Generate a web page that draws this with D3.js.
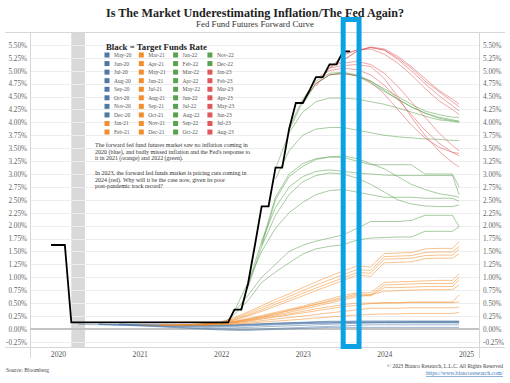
<!DOCTYPE html>
<html><head><meta charset="utf-8">
<script src="https://cdn.jsdelivr.net/npm/d3@7"></script>
<style>
html,body{margin:0;padding:0;background:#fff;}
svg{display:block;}
text{font-family:"Liberation Serif","DejaVu Serif",serif;}
</style></head><body>
<svg id="c" width="510" height="383"></svg>
<script>
const _ = null;
// contract months on the x axis of each forward curve
const curveDates = ["2020-04","2020-07","2020-10","2021-01","2021-04","2021-07","2021-10","2022-01","2022-03","2022-05","2022-07","2022-09","2022-11","2023-01","2023-03","2023-05","2023-07","2023-09","2023-11","2024-01","2024-03","2024-05","2024-07","2024-09","2024-11","2024-12"];

const blueLabels = ["May-20","Jun-20","Jul-20","Aug-20","Sep-20","Oct-20","Nov-20","Dec-20"];
const blueSeries = [
 [0.09,0.08,0.07,0.06,0.05, 0.04,0.03,0.02,0.02,0.03, 0.04,0.05,0.06,0.07,0.08, 0.09,0.10,0.11,0.12,0.13, 0.13,0.14,0.14,0.14,0.14, 0.14],
 [_,0.09,0.08,0.07,0.06, 0.05,0.05,0.05,0.05,0.06, 0.07,0.08,0.09,0.10,0.11, 0.11,0.12,0.12,0.12,0.12, 0.12,0.12,0.12,0.12,0.12, 0.12],
 [_,0.09,0.08,0.07,0.05, 0.03,0.01,0.00,-0.01,-0.01, 0.00,0.01,0.02,0.03,0.04, 0.05,0.06,0.07,0.08,0.08, 0.08,0.08,0.08,0.08,0.08, 0.08],
 [_,0.09,0.08,0.06,0.04, 0.02,0.00,-0.02,-0.03,-0.03, -0.02,-0.01,0.00,0.01,0.02, 0.03,0.03,0.03,0.03,0.03, 0.03,0.03,0.03,0.03,0.03, 0.03],
 [_,_,0.09,0.08,0.07, 0.06,0.06,0.06,0.07,0.08, 0.09,0.10,0.11,0.12,0.13, 0.14,0.14,0.15,0.15,0.15, 0.15,0.15,0.15,0.15,0.15, 0.15],
 [_,_,0.09,0.08,0.07, 0.07,0.07,0.08,0.08,0.09, 0.10,0.11,0.12,0.12,0.13, 0.13,0.13,0.13,0.13,0.13, 0.13,0.13,0.13,0.13,0.13, 0.13],
 [_,_,0.09,0.08,0.08, 0.07,0.07,0.07,0.08,0.09, 0.10,0.11,0.12,0.13,0.14, 0.15,0.15,0.15,0.15,0.15, 0.15,0.15,0.15,0.15,0.15, 0.15],
 [_,_,_,0.08,0.07, 0.06,0.06,0.06,0.06,0.07, 0.08,0.09,0.10,0.11,0.11, 0.12,0.12,0.12,0.12,0.12, 0.12,0.12,0.12,0.12,0.12, 0.12]
];

const orangeLabels = ["Jan-21","Feb-21","Mar-21","Apr-21","May-21","Jun-21","Jul-21","Aug-21","Sep-21","Oct-21","Nov-21","Dec-21"];
const orangeSeries = [
 [_,_,_,0.08,0.07, 0.07,0.07,0.08,0.09,0.11, 0.13,0.15,0.17,0.19,0.21, 0.23,0.25,0.27,0.28,0.29, 0.29,0.30,0.30,0.30,0.30, 0.32],
 [_,_,_,_,0.08, 0.08,0.08,0.09,0.10,0.13, 0.16,0.19,0.22,0.25,0.28, 0.31,0.34,0.37,0.40,0.40, 0.40,0.41,0.41,0.41,0.41, 0.42],
 [_,_,_,_,0.08, 0.08,0.09,0.10,0.12,0.15, 0.19,0.23,0.27,0.31,0.35, 0.39,0.43,0.46,0.49,0.50, 0.50,0.51,0.51,0.51,0.51, 0.52],
 [_,_,_,_,0.08, 0.08,0.09,0.10,0.12,0.16, 0.20,0.25,0.29,0.34,0.39, 0.43,0.47,0.50,0.50,0.51, 0.51,0.52,0.52,0.52,0.52, 0.66],
 [_,_,_,_,_, 0.08,0.09,0.10,0.13,0.17, 0.22,0.27,0.32,0.38,0.44, 0.50,0.56,0.62,0.66,0.73, 0.74,0.75,0.76,0.76,0.76, 0.85],
 [_,_,_,_,_, 0.08,0.09,0.11,0.14,0.18, 0.23,0.29,0.35,0.41,0.47, 0.53,0.59,0.65,0.64,0.80, 0.80,0.81,0.82,0.82,0.82, 0.95],
 [_,_,_,_,_, 0.08,0.09,0.11,0.14,0.19, 0.24,0.30,0.36,0.42,0.48, 0.55,0.61,0.68,0.66,0.85, 0.86,0.87,0.88,0.88,0.88, 1.00],
 [_,_,_,_,_, _,0.09,0.11,0.15,0.20, 0.26,0.32,0.38,0.44,0.51, 0.58,0.65,0.70,0.70,0.90, 0.91,0.92,0.93,0.94,0.94, 1.07],
 [_,_,_,_,_, _,0.09,0.12,0.17,0.25, 0.34,0.44,0.54,0.64,0.74, 0.84,0.94,1.04,1.02,1.28, 1.29,1.30,1.36,1.37,1.37, 1.45],
 [_,_,_,_,_, _,0.09,0.12,0.18,0.27, 0.37,0.48,0.58,0.69,0.79, 0.89,0.99,1.09,1.08,1.35, 1.36,1.37,1.42,1.43,1.43, 1.55],
 [_,_,_,_,_, _,_,0.13,0.20,0.30, 0.41,0.52,0.63,0.74,0.85, 0.95,1.05,1.15,1.13,1.40, 1.41,1.42,1.48,1.49,1.49, 1.60],
 [_,_,_,_,_, _,_,0.14,0.22,0.33, 0.45,0.57,0.68,0.80,0.91, 1.02,1.12,1.22,1.20,1.46, 1.47,1.48,1.55,1.56,1.56, 1.69]
];

const greenLabels = ["Jan-22","Feb-22","Mar-22","Apr-22","May-22","Jun-22","Jul-22","Aug-22","Sep-22","Oct-22","Nov-22","Dec-22"];
const greenSeries = [
 [_,_,_,_,_, _,_,0.08,0.28,0.55, 0.90,1.10,1.28,1.45,1.55, 1.60,1.63,1.72,1.76,1.77, 1.78,1.78,1.89,1.89,1.89, 1.98],
 [_,_,_,_,_, _,_,_,0.33,0.65, 1.00,1.25,1.50,1.62,1.70, 1.76,1.82,1.95,2.08,2.08, 2.08,2.10,2.20,2.20,2.20, 1.98],
 [_,_,_,_,_, _,_,_,0.35,0.90, 1.50,1.95,2.25,2.45,2.60, 2.68,2.70,2.65,2.60,2.55, 2.55,2.55,2.53,2.53,2.53, 2.47],
 [_,_,_,_,_, _,_,_,_,0.80, 1.60,2.20,2.60,2.85,2.97, 3.02,3.00,2.92,2.80,2.65, 2.50,2.42,2.38,2.37,2.37, 2.40],
 [_,_,_,_,_, _,_,_,_,0.85, 1.70,2.35,2.75,2.95,3.05, 3.08,3.05,3.02,3.00,2.98, 2.97,2.97,2.97,2.97,2.97, 2.60],
 [_,_,_,_,_, _,_,_,_,_, 1.60,2.50,2.95,3.15,3.28, 3.33,3.35,3.30,3.20,3.10, 2.95,2.80,2.70,2.62,2.58, 2.55],
 [_,_,_,_,_, _,_,_,_,_, 1.65,2.55,3.00,3.20,3.30, 3.33,3.32,3.25,3.18,3.18, 3.18,3.18,3.00,3.00,3.00, 2.75],
 [_,_,_,_,_, _,_,_,_,_, _,2.90,3.45,3.75,3.87, 3.90,3.90,3.85,3.80,3.75, 3.72,3.70,3.68,3.67,3.65, 3.65],
 [_,_,_,_,_, _,_,_,_,_, _,3.10,3.80,4.20,4.40, 4.47,4.47,4.45,4.40,4.35, 4.28,4.20,4.12,4.05,4.02, 4.00],
 [_,_,_,_,_, _,_,_,_,_, _,_,3.85,4.40,4.75, 4.92,4.95,4.90,4.80,4.62, 4.45,4.30,4.18,4.10,4.05, 4.02],
 [_,_,_,_,_, _,_,_,_,_, _,_,3.90,4.45,4.80, 4.95,4.97,4.92,4.80,4.65, 4.50,4.35,4.22,4.15,4.10, 4.10],
 [_,_,_,_,_, _,_,_,_,_, _,_,_,4.35,4.75, 4.92,4.95,4.90,4.76,4.60, 4.45,4.30,4.18,4.08,4.03, 4.02]
];

const redLabels = ["Jan-23","Feb-23","Mar-23","Apr-23","May-23","Jun-23","Jul-23","Aug-23"];
const redSeries = [
 [_,_,_,_,_, _,_,_,_,_, _,_,_,4.40,4.75, 4.92,4.95,4.90,4.78,4.55, 4.25,3.95,3.70,3.52,3.42, 3.40],
 [_,_,_,_,_, _,_,_,_,_, _,_,_,_,4.70, 5.05,5.30,5.40,5.42,5.32, 5.15,4.92,4.66,4.42,4.25, 4.15],
 [_,_,_,_,_, _,_,_,_,_, _,_,_,_,4.85, 5.00,5.05,5.02,4.92,4.72, 4.45,4.15,3.85,3.60,3.42, 3.35],
 [_,_,_,_,_, _,_,_,_,_, _,_,_,_,_, 5.05,5.10,5.12,5.08,4.85, 4.50,4.10,3.75,3.45,3.22, 3.14],
 [_,_,_,_,_, _,_,_,_,_, _,_,_,_,_, 5.10,5.15,5.18,5.12,4.95, 4.70,4.40,4.10,3.80,3.55, 3.45],
 [_,_,_,_,_, _,_,_,_,_, _,_,_,_,_, 5.05,5.20,5.38,5.45,5.40, 5.22,5.00,4.75,4.52,4.32, 4.22],
 [_,_,_,_,_, _,_,_,_,_, _,_,_,_,_, _,5.20,5.38,5.46,5.42, 5.28,5.08,4.85,4.62,4.45, 4.35],
 [_,_,_,_,_, _,_,_,_,_, _,_,_,_,_, _,5.33,5.40,5.45,5.40, 5.25,5.05,4.80,4.60,4.40, 4.30]
];

// black line: target funds rate (mid of range)
const targetDates = ["2019-12","2020-02","2020-03","2022-02","2022-03","2022-04","2022-05","2022-06","2022-07","2022-08","2022-09","2022-10","2022-11","2022-12","2023-01","2023-02","2023-03","2023-04","2023-05","2023-06","2023-07","2023-08"];
const targetRates = [1.625,1.625,0.125,0.125,0.375,0.375,0.875,1.625,2.375,2.375,3.125,3.125,3.875,4.375,4.375,4.625,4.875,4.875,5.125,5.125,5.375,5.375];

const yTicks = [-0.25,0,0.25,0.5,0.75,1,1.25,1.5,1.75,2,2.25,2.5,2.75,3,3.25,3.5,3.75,4,4.25,4.5,4.75,5,5.25,5.5];
const yearTicks = [2020,2021,2022,2023,2024,2025];
const recession = ["2020-03","2020-05"];
const highlight = ["2023-07-01","2023-09-10"];

const titleText = "Is The Market Underestimating Inflation/The Fed Again?";
const subtitleText = "Fed Fund Futures Forward Curve";
const legendTitle = "Black = Target Funds Rate";
const note1 = ["The forward fed fund futures market saw no inflation coming in","2020 (blue), and badly missed inflation and the Fed's response to","it in 2021 (orange) and 2022 (green)."];
const note2 = ["In 2023, the forward fed funds market is pricing cuts coming in","2024 (red). Why will it be the case now, given its poor","post-pandemic track record?"];
const sourceText = "Source: Bloomberg";
const copyText = "© 2023 Bianco Research, L.L.C. All Rights Reserved";
const urlText = "https://www.biancoresearch.com/";

const colors = {blue:"#4e79a7", orange:"#f28e2b", green:"#59a14f", red:"#e15759"};

const svg = d3.select("#c");
const pm = d3.timeParse("%Y-%m");
const pd = d3.timeParse("%Y-%m-%d");
const x = d3.scaleTime().domain([new Date(2019,7,29), new Date(2025,1,28)]).range([30,479]);
const y = d3.scaleLinear().domain([-0.35,5.75]).range([347,32]);
const cd = curveDates.map(pm);

function fit(sel, w){
  const fs = parseFloat(sel.attr("font-size"));
  const cur = sel.node().getComputedTextLength();
  sel.attr("font-size", (fs*w/cur).toFixed(2));
}

// recession band
svg.append("rect")
  .attr("x", x(pm(recession[0]))).attr("y", 32)
  .attr("width", x(pm(recession[1])) - x(pm(recession[0]))).attr("height", 315)
  .attr("fill", "#d9d9d9");

// gridlines
svg.append("g").selectAll("line").data(yTicks.filter(d => d !== 0)).join("line")
  .attr("x1", 30).attr("x2", 479)
  .attr("y1", d => Math.round(y(d)) + 0.5).attr("y2", d => Math.round(y(d)) + 0.5)
  .attr("stroke", "#ededed").attr("stroke-width", 1);

// frame
const frame = svg.append("g").attr("stroke", "#d6d6d6").attr("stroke-width", 1);
frame.append("line").attr("x1", 5).attr("x2", 505).attr("y1", 32.5).attr("y2", 32.5);
frame.append("line").attr("x1", 5).attr("x2", 505).attr("y1", 347.5).attr("y2", 347.5);
frame.append("line").attr("x1", 30.5).attr("x2", 30.5).attr("y1", 32).attr("y2", 358);
frame.append("line").attr("x1", 479.5).attr("x2", 479.5).attr("y1", 32).attr("y2", 358);

// zero line
svg.append("line").attr("x1", 30).attr("x2", 479)
  .attr("y1", y(0)).attr("y2", y(0))
  .attr("stroke", "#c3c3c3").attr("stroke-width", 2);

// axes
const fmt = d => d.toFixed(2) + "%";
const left = svg.append("g").attr("transform", "translate(27,0)")
  .call(d3.axisLeft(y).tickValues(yTicks).tickSize(0).tickPadding(0).tickFormat(fmt));
const right = svg.append("g").attr("transform", "translate(483,0)")
  .call(d3.axisRight(y).tickValues(yTicks).tickSize(0).tickPadding(0).tickFormat(fmt));
const bottom = svg.append("g").attr("transform", "translate(0,347)")
  .call(d3.axisBottom(x).tickValues(yearTicks.map(v => new Date(v,0,1))).tickSize(0).tickPadding(5).tickFormat(d3.timeFormat("%Y")));
[left, right, bottom].forEach(g => {
  g.select(".domain").remove();
  g.selectAll("text").attr("font-family", "Liberation Serif, DejaVu Serif, serif")
    .attr("font-size", 7.2).attr("fill", "#666");
});
bottom.selectAll("text").attr("font-size", 7.6).attr("fill", "#555");

// curves
const line = d3.line().defined(d => d != null).x((d, i) => x(cd[i])).y(d => y(d));
const groups = [
  [blueSeries, colors.blue], [orangeSeries, colors.orange],
  [greenSeries, colors.green], [redSeries, colors.red]
];
groups.forEach(([series, col]) => {
  svg.append("g").selectAll("path").data(series).join("path")
    .attr("d", line).attr("fill", "none").attr("stroke", col)
    .attr("stroke-width", 0.9).attr("stroke-opacity", 0.6);
});

// target rate line
const tline = d3.line().x((d, i) => x(pm(targetDates[i]))).y(d => y(d));
svg.append("path").datum(targetRates).attr("d", tline)
  .attr("fill", "none").attr("stroke", "#000").attr("stroke-width", 1.8)
  .attr("stroke-linejoin", "miter");

// legend
const legendItems = []
  .concat(blueLabels.map(l => [l, colors.blue]))
  .concat(orangeLabels.map(l => [l, colors.orange]))
  .concat(greenLabels.map(l => [l, colors.green]))
  .concat(redLabels.map(l => [l, colors.red]));
const lt = svg.append("text").attr("x", 106).attr("y", 50).attr("font-size", 9)
  .attr("font-weight", "bold").attr("fill", "#222").text(legendTitle);
fit(lt, 101);
const lg = svg.append("g").selectAll("g").data(legendItems).join("g")
  .attr("transform", (d, i) => `translate(${107 + Math.floor(i/10)*34.3},${55 + (i%10)*8.56})`);
lg.append("rect").attr("x", -2.5).attr("y", -2.5).attr("width", 5).attr("height", 5).attr("fill", d => d[1]);
lg.append("text").attr("x", 7).attr("y", 2).attr("font-size", 5.5).attr("fill", "#555").text(d => d[0]);

// notes
const n1 = svg.append("g").attr("fill", "#333");
const base1 = [147, 153.5, 160], base2 = [175, 181.5, 188];
const t0 = n1.append("text").attr("x", 95).attr("y", base1[0]).attr("font-size", 6.5).text(note1[0]);
fit(t0, 153);
const nfs = t0.attr("font-size");
note1.slice(1).forEach((s, i) => n1.append("text").attr("x", 95).attr("y", base1[i+1]).attr("font-size", nfs).text(s));
note2.forEach((s, i) => n1.append("text").attr("x", 95).attr("y", base2[i]).attr("font-size", nfs).text(s));

// titles
const tt = svg.append("text").attr("x", 255).attr("y", 17).attr("text-anchor", "middle")
  .attr("font-size", 12).attr("font-weight", "bold").attr("fill", "#222").text(titleText);
fit(tt, 298);
const st = svg.append("text").attr("x", 255).attr("y", 27).attr("text-anchor", "middle")
  .attr("font-size", 8).attr("fill", "#333").text(subtitleText);
fit(st, 118);

// footer
const src = svg.append("text").attr("x", 6).attr("y", 372).attr("font-size", 6).attr("fill", "#444").text(sourceText);
fit(src, 43);
const cp = svg.append("text").attr("x", 503).attr("y", 368).attr("text-anchor", "end")
  .attr("font-size", 6).attr("fill", "#444").text(copyText);
fit(cp, 116);
const ul = svg.append("text").attr("x", 503).attr("y", 375).attr("text-anchor", "end")
  .attr("font-size", 6).attr("fill", "#3c78c3").attr("text-decoration", "underline").text(urlText);
fit(ul, 77);

// highlight box
const hx0 = x(pd(highlight[0])), hx1 = x(pd(highlight[1]));
svg.append("rect").attr("x", hx0).attr("y", 19.5).attr("width", hx1 - hx0).attr("height", 327)
  .attr("fill", "none").attr("stroke", "#0aa2e4").attr("stroke-width", 5);
</script>
</body></html>
